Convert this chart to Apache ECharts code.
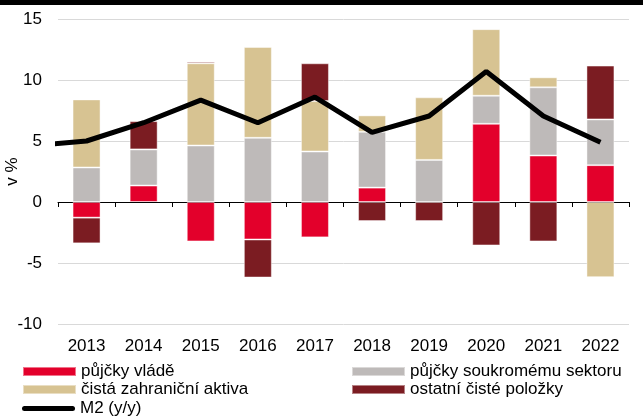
<!DOCTYPE html>
<html>
<head>
<meta charset="utf-8">
<script src="https://cdn.jsdelivr.net/npm/echarts@6/dist/echarts.min.js"></script>
<style>
  html, body { margin: 0; padding: 0; background: #fff; }
  #chart { width: 643px; height: 418px; }
</style>
</head>
<body>
<div id="chart"></div>
<script>
const years = ["2013", "2014", "2015", "2016", "2017", "2018", "2019", "2020", "2021", "2022"];
const pujckyVlade = [-1.28, 1.35, -3.23, -3.07, -2.9, 1.18, 0, 6.41, 3.81, 3.02];
const pujckySoukromemu = [2.83, 2.96, 4.63, 5.26, 4.14, 4.57, 3.45, 2.3, 5.59, 3.75];
const cistaZahranicni = [5.58, 0, 6.74, 7.45, 4.13, 1.35, 5.13, 5.46, 0.82, -6.16];
const ostatniPolozky = [-2.11, 2.32, 0.13, -3.12, 3.1, -1.56, -1.56, -3.56, -3.23, 4.41];
// M2 starts one year earlier; the 2012 point is clipped by the plot area
const m2Years = [2012, 2013, 2014, 2015, 2016, 2017, 2018, 2019, 2020, 2021, 2022];
const m2 = [4.6, 5.0, 6.5, 8.35, 6.5, 8.6, 5.7, 7.05, 10.7, 7.05, 4.9];
const yTicks = [-10, -5, 0, 5, 10, 15];

const palette = {
  red: "#e3002b",
  grey: "#bebab9",
  tan: "#d7c392",
  dark: "#7b1c22",
  ink: "#000",
};

const font = "'Liberation Sans', Arial, sans-serif";
const firstYear = Number(years[0]);
const lineIcon = "path://M2.5,0 L50.5,0 A2.5,2.5 0 0 1 50.5,5 L2.5,5 A2.5,2.5 0 0 1 2.5,0 Z";

function barSeries(name, data, color) {
  return {
    name,
    type: "bar",
    stack: "total",
    xAxisIndex: 0,
    yAxisIndex: 0,
    barWidth: 28,
    itemStyle: { color, borderColor: "rgba(255,255,255,0.45)", borderWidth: 1 },
    data,
  };
}

function legendItem(name, icon, left, top) {
  return {
    left,
    top,
    itemWidth: 53,
    itemHeight: 9,
    padding: 0,
    textStyle: { fontSize: 17, color: palette.ink, fontFamily: font },
    data: [{ name, icon }],
  };
}

const chart = echarts.init(document.getElementById("chart"), null, { renderer: "canvas" });
chart.setOption({
  animation: false,
  textStyle: { fontFamily: font },
  graphic: [
    { type: "rect", left: 0, top: 0, shape: { width: 643, height: 5 }, style: { fill: palette.ink } },
  ],
  grid: { left: 58, right: 14, top: 19, bottom: 94, outerBoundsMode: "none", containLabel: false },
  legend: [
    legendItem("půjčky vládě", "rect", 22, 363),
    legendItem("čistá zahraniční aktiva", "rect", 22, 381),
    legendItem("M2 (y/y)", lineIcon, 22, 400),
    legendItem("půjčky soukromému sektoru", "rect", 351, 363),
    legendItem("ostatní čisté položky", "rect", 351, 381),
  ],
  xAxis: [
    {
      type: "category",
      data: years,
      position: "bottom",
      axisLine: { show: false, onZero: false },
      axisTick: { show: false },
      axisLabel: { fontSize: 17, color: palette.ink, margin: 14 },
      splitLine: { show: false },
    },
    {
      type: "category",
      data: years,
      position: "bottom",
      axisLine: { show: true, onZero: true, lineStyle: { color: palette.ink, width: 1 } },
      axisTick: { show: true, length: 5, lineStyle: { color: palette.ink } },
      axisLabel: { show: false },
      splitLine: { show: false },
    },
    {
      type: "value",
      position: "top",
      min: 0,
      max: years.length,
      show: false,
    },
  ],
  yAxis: {
    type: "value",
    min: yTicks[0],
    max: yTicks[yTicks.length - 1],
    interval: 5,
    name: "v %",
    nameLocation: "middle",
    nameGap: 37,
    nameMoveOverlap: false,
    nameTextStyle: { fontSize: 17, color: palette.ink },
    axisLine: { show: false },
    axisTick: { show: false },
    axisLabel: { fontSize: 17, color: palette.ink, margin: 16 },
    splitLine: { lineStyle: { color: "#d9d9d9", width: 1 } },
  },
  series: [
    barSeries("půjčky vládě", pujckyVlade, palette.red),
    barSeries("půjčky soukromému sektoru", pujckySoukromemu, palette.grey),
    barSeries("čistá zahraniční aktiva", cistaZahranicni, palette.tan),
    barSeries("ostatní čisté položky", ostatniPolozky, palette.dark),
    {
      name: "M2 (y/y)",
      type: "line",
      xAxisIndex: 2,
      yAxisIndex: 0,
      clip: true,
      symbol: "none",
      z: 5,
      color: palette.ink,
      lineStyle: { color: palette.ink, width: 5 },
      data: m2Years.map((year, i) => [year - firstYear + 0.5, m2[i]]),
    },
  ],
});
</script>
</body>
</html>
